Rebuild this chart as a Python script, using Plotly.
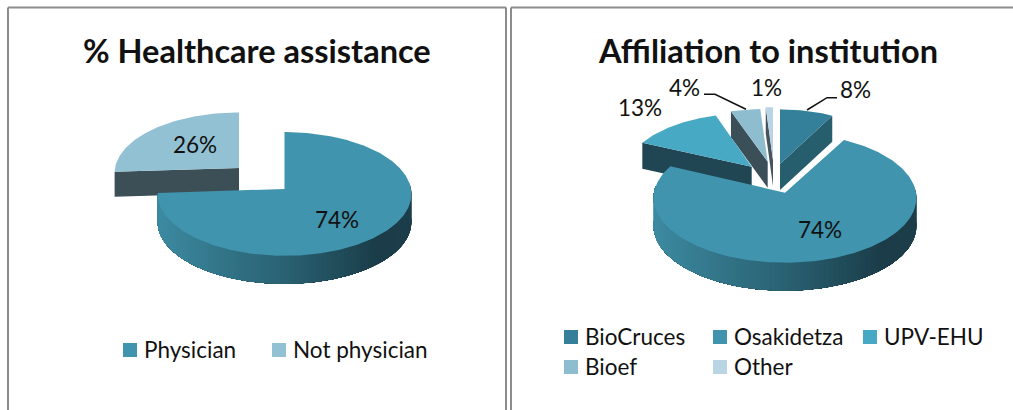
import numpy as np
import plotly.graph_objects as go

# ---- data ----
left_title = "% Healthcare assistance"
left_categories = ["Physician", "Not physician"]
left_values = [74, 26]

right_title = "Affiliation to institution"
right_categories = ["BioCruces", "Osakidetza", "UPV-EHU", "Bioef", "Other"]
right_values = [8, 74, 13, 4, 1]

# ---- style ----
left_colors = ["#4094ad", "#92c1d4"]
left_dark = ["#1f4a58", "#3c4f57"]
right_colors = ["#34809a", "#4094ad", "#48a9c5", "#8fbdd0", "#b9d5e3"]
right_dark = ["#265e6e", "#1f4a58", "#1f4652", "#3b4f58", "#46555c"]

# placement of each exploded slice: apex x, apex y, half width, half height, depth
left_geom = [(284.5, 189, 126.5, 61.5, 28), (239, 168, 124, 60, 25)]
right_geom = [(780, 164, 116, 59, 26), (785, 192.7, 131, 64.4, 28), (751.7, 166.7, 125, 58, 26),
              (767.7, 161.7, 128, 57, 26), (773, 160, 125, 57, 26)]
left_order = [1, 0]
right_order = [0, 4, 3, 2, 1]

left_label_pos = [(337, 219), (195, 144)]
right_label_pos = [(855, 89), (820, 229), (640, 107), (684, 87), (766, 87)]
left_leaders = []
right_leaders = [([807, 827, 837], [110, 97.7, 97.7]), ([746, 715, 704], [109.3, 94.3, 94.3])]

left_legend_pos = [(130, 350), (279, 350)]
right_legend_pos = [(571, 337), (720, 337), (870, 337), (571, 367), (720, 367)]

FONT = "Lato"
K = 0.08
GRAD_POS = [0, 0.5, 0.85, 1]
GRAD_RGB = [(62, 140, 163), (42, 98, 115), (27, 60, 72), (29, 63, 75)]


def project(g, t):
    cx, cy, a, b, _ = g
    r = np.radians(t)
    X, Y = np.sin(r), -np.cos(r)
    s = 1 / (1 - K * Y)
    return cx + a * X * s, cy + b * Y * s


def side_color(frac):
    return "rgb(%d,%d,%d)" % tuple(np.interp(frac, GRAD_POS, [c[i] for c in GRAD_RGB]) for i in range(3))


fig = go.Figure()


def add_pie(values, cats, colors, darks, geoms, order):
    pct = np.array(values, dtype=float)
    edges = np.concatenate([[0], np.cumsum(pct) / pct.sum() * 360])
    for i in order:
        t0, t1 = edges[i], edges[i + 1]
        g = geoms[i]
        cx, cy, d = g[0], g[1], g[4]
        # radial faces seen by the viewer
        for edge in ([t1] if t1 <= 180 else ([t0] if t0 >= 180 else [])):
            ex, ey = project(g, edge)
            fig.add_trace(go.Scatter(x=[cx, ex, ex, cx, cx], y=[cy, ey, ey + d, cy + d, cy], mode="lines",
                                     fill="toself", fillcolor=darks[i], line=dict(width=0),
                                     hoverinfo="skip", showlegend=False))
        # outer rim with its shading: painted back to front so no seams show
        lo, hi = max(t0, 84), min(t1, 276)
        if hi - lo > 20:
            ts = np.append(np.arange(lo, hi, 2.0), hi)
            for u in ts[:-1]:
                arc = np.linspace(u, hi, max(int(hi - u) + 2, 2))
                ax, ay = project(g, arc)
                frac = (np.sin(np.radians(u + 1)) + 1) / 2
                fig.add_trace(go.Scatter(x=np.r_[ax, ax[::-1] , ax[0]], y=np.r_[ay, ay[::-1] + d, ay[0]],
                                         mode="lines", fill="toself", fillcolor=side_color(frac),
                                         line=dict(width=0), hoverinfo="skip", showlegend=False))
        # top face
        ang = np.linspace(t0, t1, max(int(t1 - t0) + 2, 3))
        px, py = project(g, ang)
        fig.add_trace(go.Scatter(x=np.r_[cx, px, cx], y=np.r_[cy, py, cy], mode="lines", fill="toself",
                                 fillcolor=colors[i], line=dict(width=0), name=cats[i],
                                 hoverinfo="name", showlegend=False))


add_pie(left_values, left_categories, left_colors, left_dark, left_geom, left_order)
add_pie(right_values, right_categories, right_colors, right_dark, right_geom, right_order)

annotations = []


def text(x, y, s, size, anchor="center", bold=False):
    annotations.append(dict(x=x, y=y, text=f"<b>{s}</b>" if bold else s, showarrow=False, xanchor=anchor,
                            yanchor="middle", font=dict(family=FONT, size=size, color="#111111")))


for v, p in zip(left_values + right_values, left_label_pos + right_label_pos):
    text(p[0], p[1], f"{v}%", 22.5)
for xs, ys in left_leaders + right_leaders:
    fig.add_trace(go.Scatter(x=xs, y=ys, mode="lines", line=dict(color="#111111", width=1.5),
                             hoverinfo="skip", showlegend=False))

for cats, cols, pos in ((left_categories, left_colors, left_legend_pos),
                        (right_categories, right_colors, right_legend_pos)):
    for c, col, p in zip(cats, cols, pos):
        fig.add_trace(go.Scatter(x=[p[0]], y=[p[1]], mode="markers", hoverinfo="skip", showlegend=False,
                                 marker=dict(symbol="square", size=14, color=col)))
        text(p[0] + 11.5, p[1] - 1, c, 22.5, "left")

text(257, 50, left_title, 32.5, bold=True)
text(768, 50, right_title, 32.5, bold=True)

border = dict(color="#8c8c8c", width=2)
TOP = 7.5
shapes = [
    dict(type="line", x0=8, x1=8, y0=TOP, y1=410, line=border),
    dict(type="line", x0=8, x1=506, y0=TOP, y1=TOP, line=border),
    dict(type="line", x0=506, x1=506, y0=TOP, y1=410, line=border),
    dict(type="line", x0=511, x1=511, y0=TOP, y1=410, line=border),
    dict(type="line", x0=511, x1=1013, y0=TOP, y1=TOP, line=border),
]

fig.update_layout(
    width=1013, height=410, margin=dict(l=0, r=0, t=0, b=0), paper_bgcolor="white", plot_bgcolor="white",
    xaxis=dict(range=[0, 1013], visible=False, fixedrange=True),
    yaxis=dict(range=[410, 0], visible=False, fixedrange=True),
    annotations=annotations, shapes=shapes, showlegend=False,
)
fig.write_html("out.html", post_script="document.body.style.margin='0';", config=dict(displayModeBar=False))
